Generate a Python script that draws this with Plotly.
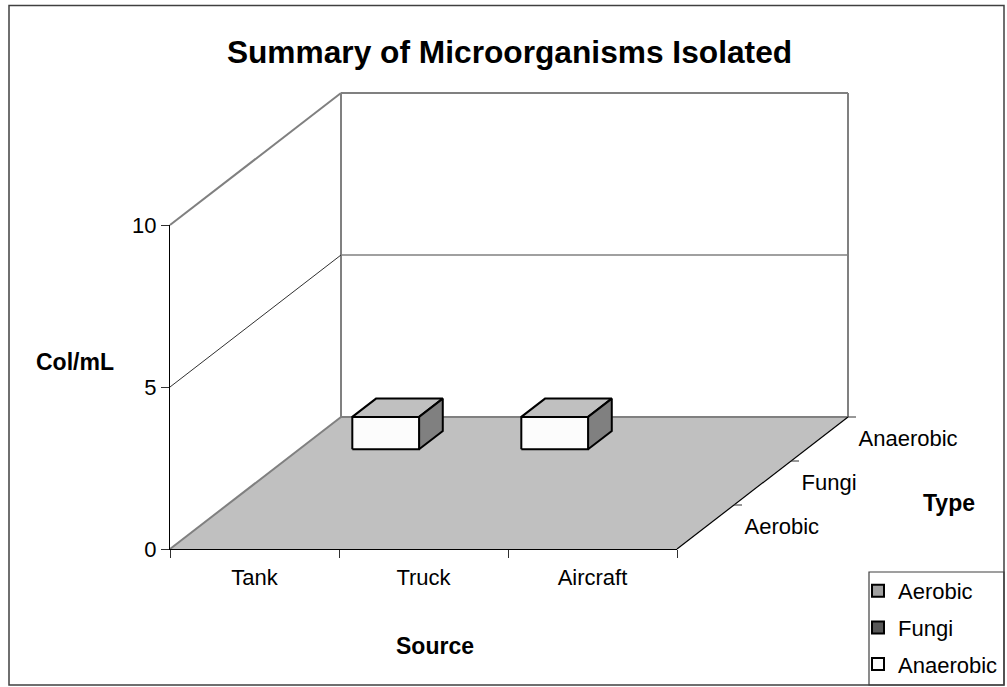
import plotly.graph_objects as go

# Data
sources = ["Tank", "Truck", "Aircraft"]
types = ["Aerobic", "Fungi", "Anaerobic"]
aerobic = [0, 0, 0]
fungi = [0, 0, 0]
anaerobic = [1, 1, 0]
z_ticks = [0, 5, 10]
series_values = [aerobic, fungi, anaerobic]
series_colors = ["#A0A0A0", "#585858", "#FCFCFC"]

W, H = 1007, 687
X0, Y0 = 170, 549          # pixel of origin
PX_X, PX_Z = 169, 32.4     # pixels per category / per Col/mL
SHEAR_X, SHEAR_Y = 57, 44  # pixels per series step on the depth axis
Z_MAX = 10
BAR_W, BAR_D = 0.395, 0.416
BAR_CX, BAR_CY = 0.512, 0.474
GREY = "#808080"
FS = 22


def proj(x, y, z):
    """Oblique projection of (category, series, value) to the flat axes."""
    return x + y * SHEAR_X / PX_X, z + y * SHEAR_Y / PX_Z


def poly(points):
    pts = [proj(*p) for p in points]
    return [p[0] for p in pts], [p[1] for p in pts]


fig = go.Figure()
nx, ny = len(sources), len(types)


def line(a, b, color, width):
    xs, ys = poly([a, b])
    fig.add_trace(go.Scatter(x=xs, y=ys, mode="lines", line=dict(color=color, width=width),
                             showlegend=False, hoverinfo="skip"))


def face(points, fill):
    xs, ys = poly(points + points[:1])
    fig.add_trace(go.Scatter(x=xs, y=ys, mode="lines", fill="toself", fillcolor=fill,
                             line=dict(color="black", width=2), showlegend=False, hoverinfo="skip"))


# Floor
xs, ys = poly([(0, 0, 0), (nx, 0, 0), (nx, ny, 0), (0, ny, 0), (0, 0, 0)])
fig.add_trace(go.Scatter(x=xs, y=ys, mode="lines", fill="toself", fillcolor="#C0C0C0",
                         line=dict(color="rgba(0,0,0,0)", width=0), showlegend=False, hoverinfo="skip"))

# Walls and gridlines
line((0, 0, 0), (0, ny, 0), GREY, 2)
line((0, ny, 0), (nx, ny, 0), GREY, 2)
line((0, ny, 0), (0, ny, Z_MAX), GREY, 2)
line((nx, ny, 0), (nx, ny, Z_MAX), GREY, 2)
line((0, ny, Z_MAX), (nx, ny, Z_MAX), GREY, 2)
line((0, 0, Z_MAX), (0, ny, Z_MAX), GREY, 2)
line((0, 0, 5), (0, ny, 5), "#303030", 1)
line((0, ny, 5), (nx, ny, 5), GREY, 1.5)

# Front-right floor edge and depth ticks
line((nx, 0, 0), (nx, ny, 0), "black", 1.2)
for s in range(1, ny + 1):
    xs, ys = poly([(nx, s, 0), (nx + 8 / PX_X, s, 0)])
    fig.add_trace(go.Scatter(x=xs, y=ys, mode="lines", line=dict(color="#303030", width=1),
                             showlegend=False, hoverinfo="skip"))

# Bars
for s, values in enumerate(series_values):
    for c, v in enumerate(values):
        if v <= 0:
            continue
        x0, x1 = c + BAR_CX - BAR_W / 2, c + BAR_CX + BAR_W / 2
        y0, y1 = s + BAR_CY - BAR_D / 2, s + BAR_CY + BAR_D / 2
        face([(x0, y0, v), (x1, y0, v), (x1, y1, v), (x0, y1, v)], "#C0C0C0")
        face([(x1, y0, 0), (x1, y1, 0), (x1, y1, v), (x1, y0, v)], GREY)
        face([(x0, y0, 0), (x1, y0, 0), (x1, y0, v), (x0, y0, v)], series_colors[s])

# Depth axis labels
lx, ly = zip(*[proj(nx + 39 / PX_X, s + 0.5, -1.7 / PX_Z) for s in range(ny)])
fig.add_trace(go.Scatter(x=lx, y=ly, mode="text", text=types, textposition="middle right",
                         textfont=dict(size=FS, color="black"), showlegend=False, hoverinfo="skip"))

# Legend entries
for name, col in zip(types, series_colors):
    fig.add_trace(go.Scatter(x=[None], y=[None], mode="markers", name=name, legendgroup=name,
                             marker=dict(symbol="square", size=12, color=col,
                                         line=dict(color="black", width=2))))

# Real axes for the category and value scales
fig.add_trace(go.Scatter(x=sources, y=[0] * nx, xaxis="x2", yaxis="y2", mode="markers",
                         marker=dict(opacity=0), showlegend=False, hoverinfo="skip"))

fig.update_layout(
    width=W, height=H, autosize=False,
    margin=dict(l=0, r=0, t=0, b=0, autoexpand=False),
    paper_bgcolor="white", plot_bgcolor="rgba(0,0,0,0)",
    font=dict(family="Liberation Sans, Arial, sans-serif", size=FS, color="black"),
    title=dict(text="<b>Summary of Microorganisms Isolated</b>", font=dict(size=31.7),
               x=509.5 / W, xanchor="center", y=1 - 52 / H, yanchor="middle"),
    xaxis=dict(visible=False, range=[-X0 / PX_X, (W - X0) / PX_X], domain=[0, 1], fixedrange=True),
    yaxis=dict(visible=False, range=[(Y0 - H) / PX_Z, Y0 / PX_Z], domain=[0, 1], fixedrange=True),
    xaxis2=dict(type="category", categoryorder="array", categoryarray=sources, range=[-0.5, 2.5],
                domain=[X0 / W, (X0 + nx * PX_X) / W], anchor="y2", tickson="boundaries",
                ticks="outside", ticklen=8, tickcolor="#303030", showgrid=False, zeroline=False,
                showline=True, linecolor="black", linewidth=1, automargin=False,
                ticklabelstandoff=9, tickfont=dict(size=FS), fixedrange=True),
    yaxis2=dict(range=[0, Z_MAX], tickvals=z_ticks, anchor="x2", automargin=False,
                domain=[(H - Y0) / H, (H - Y0 + Z_MAX * PX_Z) / H],
                ticks="outside", ticklen=8, tickcolor="#303030", showgrid=False, zeroline=False,
                showline=True, linecolor="black", linewidth=1, tickfont=dict(size=FS), fixedrange=True),
    legend=dict(x=858 / W, y=1 - 570 / H, xanchor="left", yanchor="top", bgcolor="rgba(0,0,0,0)",
                tracegroupgap=5, font=dict(size=FS), borderwidth=0),
    showlegend=True,
    annotations=[
        dict(text="<b>Col/mL</b>", xref="paper", yref="paper", x=75 / W, y=1 - 362 / H,
             xanchor="center", yanchor="middle", showarrow=False, font=dict(size=23)),
        dict(text="<b>Type</b>", xref="paper", yref="paper", x=949 / W, y=1 - 503 / H,
             xanchor="center", yanchor="middle", showarrow=False, font=dict(size=23)),
        dict(text="<b>Source</b>", xref="paper", yref="paper", x=435 / W, y=1 - 646 / H,
             xanchor="center", yanchor="middle", showarrow=False, font=dict(size=23)),
    ],
    shapes=[
        dict(type="rect", xref="paper", yref="paper", x0=9 / W, x1=1004 / W, y0=1 - 685 / H, y1=1 - 5.5 / H,
             line=dict(color="#404040", width=1.5)),
        dict(type="rect", xref="paper", yref="paper", x0=869 / W, x1=1004 / W, y0=1 - 685 / H, y1=1 - 572 / H,
             line=dict(color="#404040", width=1.2)),
    ],
)
fig.write_html("out.html", config={"displayModeBar": False},
               post_script="document.body.style.margin='0';document.documentElement.style.overflow='hidden';")
